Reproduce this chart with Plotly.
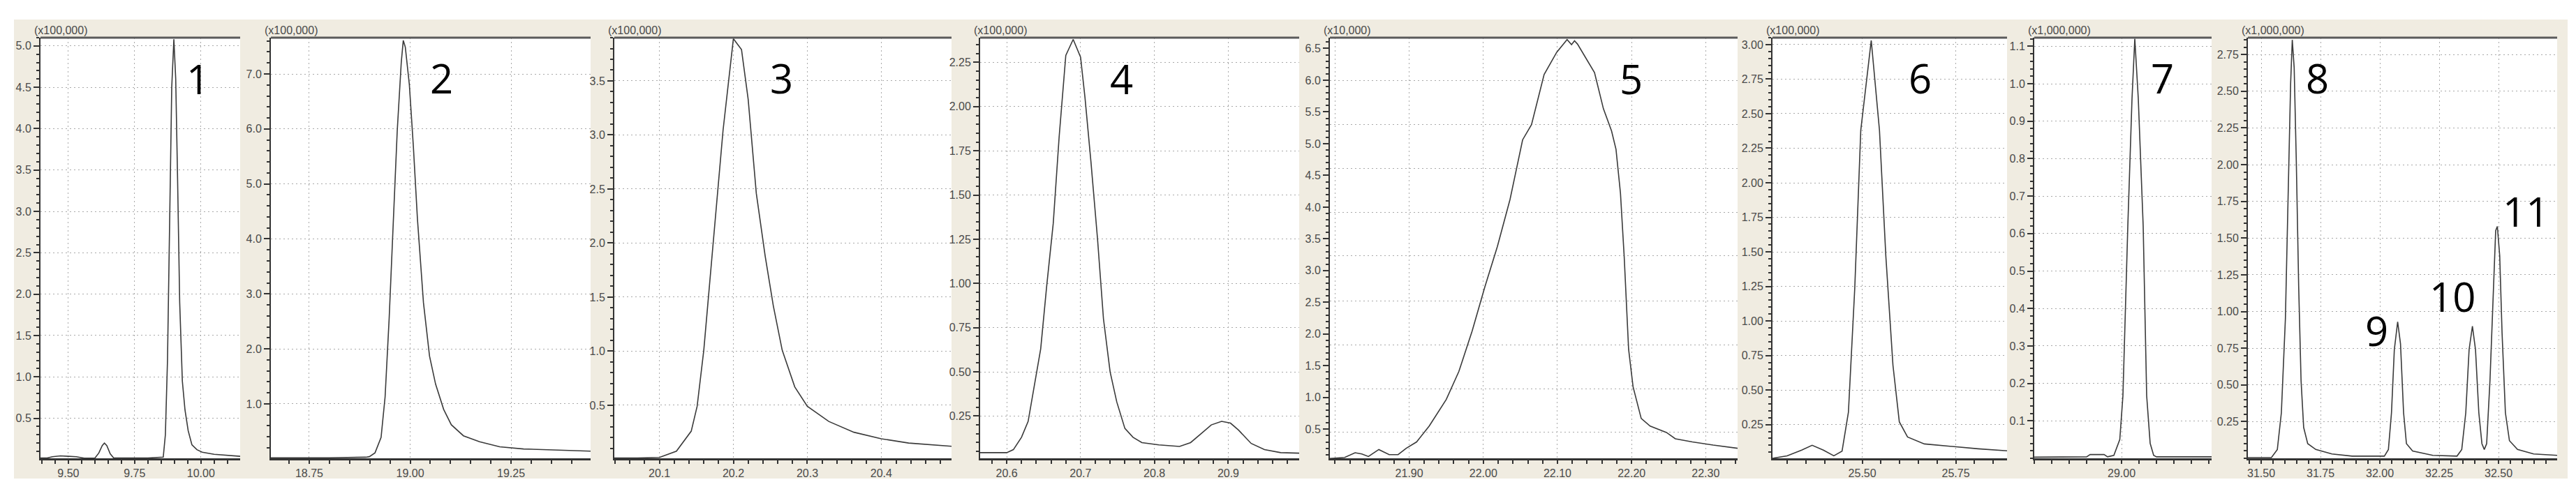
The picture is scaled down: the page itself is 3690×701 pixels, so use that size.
import plotly.graph_objects as go

# ---------------- data (retention time [min], signal in panel units) ----------------
rt1 = [9.395, 9.42, 9.44, 9.47, 9.50, 9.53, 9.56, 9.60, 9.615, 9.628, 9.636, 9.645, 9.658, 9.671,
       9.70, 9.80, 9.858, 9.866, 9.874, 9.882, 9.89, 9.898, 9.905, 9.912, 9.92, 9.93, 9.94, 9.952,
       9.966, 9.985, 10.005, 10.05, 10.10, 10.148]
sig1 = [0.02, 0.02, 0.035, 0.045, 0.04, 0.035, 0.018, 0.018, 0.08, 0.17, 0.20, 0.17, 0.07, 0.02,
        0.02, 0.02, 0.03, 0.3, 1.2, 2.9, 4.5, 5.08, 4.6, 3.4, 1.9, 0.95, 0.6, 0.35,
        0.18, 0.12, 0.09, 0.065, 0.05, 0.04]

rt2 = [18.655, 18.80, 18.89, 18.899, 18.913, 18.928, 18.938, 18.948, 18.958, 18.968, 18.978,
       18.983, 18.988, 18.998, 19.008, 19.018, 19.033, 19.048, 19.063, 19.083, 19.102, 19.132,
       19.172, 19.222, 19.281, 19.351, 19.447]
sig2 = [0.02, 0.02, 0.03, 0.04, 0.11, 0.39, 1.13, 2.55, 4.26, 5.96, 7.21,
        7.61, 7.49, 6.81, 5.68, 4.37, 2.84, 1.87, 1.36, 0.90, 0.62, 0.42,
        0.31, 0.22, 0.18, 0.16, 0.14]

rt3 = [20.039, 20.07, 20.10, 20.123, 20.143, 20.151, 20.16, 20.171, 20.186, 20.20, 20.211, 20.22,
       20.231, 20.243, 20.254, 20.266, 20.283, 20.30, 20.329, 20.363, 20.40, 20.437, 20.495]
sig3 = [0.012, 0.012, 0.017, 0.075, 0.26, 0.49, 1.01, 1.88, 3.04, 3.89, 3.79, 3.33,
        2.46, 1.88, 1.42, 1.01, 0.67, 0.49, 0.35, 0.25, 0.19, 0.15, 0.12]

rt4 = [20.564, 20.60, 20.609, 20.62, 20.629, 20.637, 20.646, 20.654, 20.663, 20.671, 20.68, 20.69,
       20.70, 20.706, 20.714, 20.723, 20.731, 20.74, 20.749, 20.76, 20.771, 20.783, 20.806, 20.834,
       20.849, 20.863, 20.877, 20.891, 20.903, 20.914, 20.931, 20.949, 20.971, 20.996]
sig4 = [0.043, 0.043, 0.06, 0.13, 0.22, 0.41, 0.63, 0.98, 1.34, 1.83, 2.29, 2.38,
        2.28, 2.05, 1.69, 1.25, 0.80, 0.50, 0.33, 0.18, 0.13, 0.10, 0.087, 0.078,
        0.10, 0.15, 0.20, 0.22, 0.21, 0.17, 0.095, 0.06, 0.043, 0.04]

rt5 = [21.793, 21.813, 21.827, 21.836, 21.845, 21.859, 21.873, 21.885, 21.896, 21.91, 21.927, 21.95,
       21.967, 21.985, 22.002, 22.019, 22.036, 22.053, 22.065, 22.082, 22.099, 22.113, 22.119, 22.123,
       22.127, 22.139, 22.15, 22.162, 22.173, 22.179, 22.185, 22.19, 22.196, 22.202, 22.213, 22.225,
       22.236, 22.247, 22.259, 22.282, 22.31, 22.343]
sig5 = [0.04, 0.056, 0.13, 0.11, 0.07, 0.18, 0.10, 0.10, 0.20, 0.30, 0.55, 0.97,
        1.41, 2.05, 2.74, 3.38, 4.12, 5.06, 5.30, 6.09, 6.44, 6.64, 6.56, 6.62,
        6.57, 6.34, 6.12, 5.55, 5.20, 4.91, 4.22, 3.23, 1.76, 1.17, 0.67, 0.55,
        0.50, 0.45, 0.35, 0.30, 0.25, 0.20]

rt6 = [25.26, 25.299, 25.338, 25.366, 25.396, 25.424, 25.446, 25.463, 25.48, 25.496, 25.524,
       25.546, 25.563, 25.582, 25.599, 25.621, 25.666, 25.742, 25.81, 25.887]
sig6 = [0.006, 0.024, 0.065, 0.10, 0.065, 0.024, 0.058, 0.34, 1.24, 2.38, 3.03,
        2.38, 1.47, 0.68, 0.27, 0.16, 0.11, 0.09, 0.075, 0.06]

rt7 = [28.75, 28.90, 28.91, 28.95, 28.96, 28.978, 28.995, 29.004, 29.018, 29.03, 29.038, 29.048,
       29.062, 29.072, 29.082, 29.092, 29.10, 29.258]
sig7 = [0.003, 0.004, 0.010, 0.010, 0.004, 0.008, 0.05, 0.167, 0.62, 0.96, 1.12, 0.96,
        0.62, 0.167, 0.04, 0.008, 0.004, 0.004]

rt8 = [31.444, 31.543, 31.568, 31.585, 31.602, 31.614, 31.624, 31.631, 31.639, 31.648, 31.658, 31.668,
       31.679, 31.696, 31.73, 31.798, 31.883, 32.019, 32.036, 32.049, 32.061, 32.075, 32.087, 32.10,
       32.112, 32.138, 32.223, 32.325, 32.345, 32.362, 32.376, 32.39, 32.403, 32.417, 32.43, 32.44,
       32.45, 32.464, 32.478, 32.488, 32.495, 32.505, 32.515, 32.529, 32.546, 32.58, 32.648, 32.747]
sig8 = [0.005, 0.005, 0.06, 0.31, 0.95, 1.81, 2.55, 2.85, 2.66, 2.02, 1.17, 0.53,
        0.21, 0.10, 0.06, 0.03, 0.015, 0.015, 0.06, 0.31, 0.74, 0.93, 0.78, 0.31,
        0.10, 0.05, 0.02, 0.015, 0.06, 0.31, 0.74, 0.90, 0.74, 0.31, 0.10, 0.06,
        0.10, 0.53, 1.17, 1.55, 1.58, 1.38, 0.85, 0.31, 0.12, 0.06, 0.03, 0.02]

# axis scale labels
units = ["(x100,000)", "(x100,000)", "(x100,000)", "(x100,000)",
         "(x10,000)", "(x100,000)", "(x1,000,000)", "(x1,000,000)"]

# tick values
xticks1 = [9.50, 9.75, 10.00]
xticks2 = [18.75, 19.00, 19.25]
xticks3 = [20.1, 20.2, 20.3, 20.4]
xticks4 = [20.6, 20.7, 20.8, 20.9]
xticks5 = [21.80, 21.90, 22.00, 22.10, 22.20, 22.30]
xticks6 = [25.50, 25.75]
xticks7 = [29.00]
xticks8 = [31.50, 31.75, 32.00, 32.25, 32.50]

yticks1 = [0.5, 1.0, 1.5, 2.0, 2.5, 3.0, 3.5, 4.0, 4.5, 5.0]
yticks2 = [1.0, 2.0, 3.0, 4.0, 5.0, 6.0, 7.0]
yticks3 = [0.5, 1.0, 1.5, 2.0, 2.5, 3.0, 3.5]
yticks4 = [0.25, 0.50, 0.75, 1.00, 1.25, 1.50, 1.75, 2.00, 2.25]
yticks5 = [0.5, 1.0, 1.5, 2.0, 2.5, 3.0, 3.5, 4.0, 4.5, 5.0, 5.5, 6.0, 6.5]
yticks6 = [0.25, 0.50, 0.75, 1.00, 1.25, 1.50, 1.75, 2.00, 2.25, 2.50, 2.75, 3.00]
yticks7 = [0.1, 0.2, 0.3, 0.4, 0.5, 0.6, 0.7, 0.8, 0.9, 1.0, 1.1]
yticks8 = [0.25, 0.50, 0.75, 1.00, 1.25, 1.50, 1.75, 2.00, 2.25, 2.50, 2.75]
ygrid5 = [0.45, 1.14, 1.83, 2.52, 3.23, 3.92, 4.61, 5.30, 5.99]

# peak numbers and where they are written (data coords of their panel)
peak_names = ["1", "2", "3", "4", "5", "6", "7", "8", "9", "10", "11"]
peak_panel = [1, 2, 3, 4, 5, 6, 7, 8, 8, 8, 8]
peak_lx = [9.990, 19.078, 20.265, 20.755, 22.199, 25.655, 29.117, 31.738, 31.988, 32.306, 32.616]
peak_ly = [4.61, 6.93, 3.53, 2.16, 6.03, 2.76, 1.015, 2.59, 0.871, 1.105, 1.686]

# ---------------- layout geometry ----------------
W, H = 3690, 701
px_left = [50, 380, 872, 1396, 1897, 2531, 2906, 3212]
px_right = [336, 838, 1355, 1853, 2481, 2867, 3160, 3655]
px_top, px_bot = 46, 649
xranges = [[9.395, 10.148], [18.655, 19.447], [20.039, 20.495], [20.564, 20.996],
           [21.793, 22.343], [25.26, 25.887], [28.75, 29.258], [31.444, 32.747]]
yranges = [[0.016, 5.10], [0.01, 7.66], [0.009, 3.90], [0.011, 2.39],
           [0.042, 6.67], [0.006, 3.05], [0.0, 1.123], [0.0, 2.865]]
xfmt = ["{:.2f}", "{:.2f}", "{:.1f}", "{:.1f}", "{:.2f}", "{:.2f}", "{:.2f}", "{:.2f}"]
yfmt = ["{:.1f}", "{:.1f}", "{:.1f}", "{:.2f}", "{:.1f}", "{:.2f}", "{:.1f}", "{:.2f}"]
xminor = [0.05, 0.05, 0.02, 0.02, 0.02, 0.05, 0.05, 0.05]
yminor = [0.1, 0.2, 0.1, 0.05, 0.1, 0.05, 0.02, 0.05]

xs = [rt1, rt2, rt3, rt4, rt5, rt6, rt7, rt8]
ys = [sig1, sig2, sig3, sig4, sig5, sig6, sig7, sig8]
xtk = [xticks1, xticks2, xticks3, xticks4, xticks5, xticks6, xticks7, xticks8]
ytk = [yticks1, yticks2, yticks3, yticks4, yticks5, yticks6, yticks7, yticks8]

BEIGE = "#f0ece1"
AX = "#333333"
GRID = "#a9a9a9"
TXT = "#4a4a4a"
TICKFONT = dict(family="Liberation Sans, Arial, sans-serif", size=16, color=TXT)

fig = go.Figure()
layout = dict(
    width=W, height=H,
    margin=dict(l=0, r=0, t=0, b=0),
    paper_bgcolor=BEIGE, plot_bgcolor="white",
    showlegend=False,
)
shapes = []
annotations = []

y0 = (H - px_bot) / H
y1 = (H - px_top) / H

for i in range(8):
    n = i + 1
    xa = "xaxis" if n == 1 else f"xaxis{n}"
    ya = "yaxis" if n == 1 else f"yaxis{n}"
    xr = "x" if n == 1 else f"x{n}"
    yr = "y" if n == 1 else f"y{n}"
    fig.add_trace(go.Scatter(x=xs[i], y=ys[i], mode="lines", xaxis=xr, yaxis=yr,
                             line=dict(color="#3a3a3a", width=1.6), hoverinfo="skip"))
    xt = xtk[i]
    xtext = [xfmt[i].format(v) for v in xt]
    if n == 5:
        xtext[0] = ""
    layout[xa] = dict(
        domain=[px_left[i] / W, px_right[i] / W], anchor=yr, range=xranges[i],
        tickmode="array", tickvals=xt, ticktext=xtext,
        ticks="outside", ticklen=5, tickwidth=1.5, tickcolor=AX,
        showline=True, linecolor=AX, linewidth=2.5,
        showgrid=True, gridcolor=GRID, gridwidth=1, griddash="2px,4px",
        zeroline=False, tickfont=TICKFONT, fixedrange=True,
        minor=dict(tickmode="linear", tick0=0, dtick=xminor[i], ticks="outside",
                   ticklen=5, tickwidth=1.5, tickcolor=AX, showgrid=False),
    )
    yt = ytk[i]
    layout[ya] = dict(
        domain=[y0, y1], anchor=xr, range=yranges[i],
        tickmode="array", tickvals=yt, ticktext=[yfmt[i].format(v) for v in yt],
        ticks="outside", ticklen=8, tickwidth=1.5, tickcolor=AX,
        showline=True, linecolor=AX, linewidth=2,
        showgrid=(n != 5), gridcolor=GRID, gridwidth=1, griddash="2px,4px",
        zeroline=False, tickfont=TICKFONT, fixedrange=True,
        minor=dict(tickmode="linear", tick0=0, dtick=yminor[i], ticks="outside",
                   ticklen=4, tickwidth=1.5, tickcolor=AX, showgrid=False),
    )
    # top frame line
    shapes.append(dict(type="line", xref=f"{xr} domain", yref=f"{yr} domain",
                       x0=0, x1=1, y0=1, y1=1, line=dict(color="#5a5a5a", width=3)))
    # unit label
    annotations.append(dict(text=units[i], xref=f"{xr} domain", yref=f"{yr} domain",
                            x=0, y=1, xanchor="left", yanchor="bottom", xshift=-11, yshift=0,
                            showarrow=False, font=TICKFONT))

# panel 5 has its own horizontal grid divisions
fig.add_trace(go.Scatter(x=[None], y=[None], xaxis="x5", yaxis="y9", mode="lines",
                         hoverinfo="skip"))
layout["yaxis9"] = dict(overlaying="y5", anchor="x5", range=yranges[4], domain=[y0, y1],
                        tickmode="array", tickvals=ygrid5, showticklabels=False, ticks="",
                        showline=False, showgrid=True, gridcolor=GRID, gridwidth=1,
                        griddash="2px,4px", zeroline=False, fixedrange=True)

# peak numbers
for name, p, lx, ly in zip(peak_names, peak_panel, peak_lx, peak_ly):
    xr = "x" if p == 1 else f"x{p}"
    yr = "y" if p == 1 else f"y{p}"
    annotations.append(dict(text=name, x=lx, y=ly, xref=xr, yref=yr, showarrow=False,
                            xanchor="center", yanchor="middle",
                            font=dict(family="Open Sans, Noto Sans, sans-serif", size=58,
                                      color="black")))

# white page margins around the beige window frame
for (a, b, c, d) in [(0, 0, W, 20), (0, 678, W, H), (0, 0, 12, H), (3670, 0, W, H)]:
    shapes.append(dict(type="rect", xref="paper", yref="paper", layer="below",
                       x0=a / W, x1=c / W, y0=(H - d) / H, y1=(H - b) / H,
                       fillcolor="white", line=dict(width=0)))

layout["shapes"] = shapes
layout["annotations"] = annotations
fig.update_layout(**layout)
fig.write_html("out.html")
